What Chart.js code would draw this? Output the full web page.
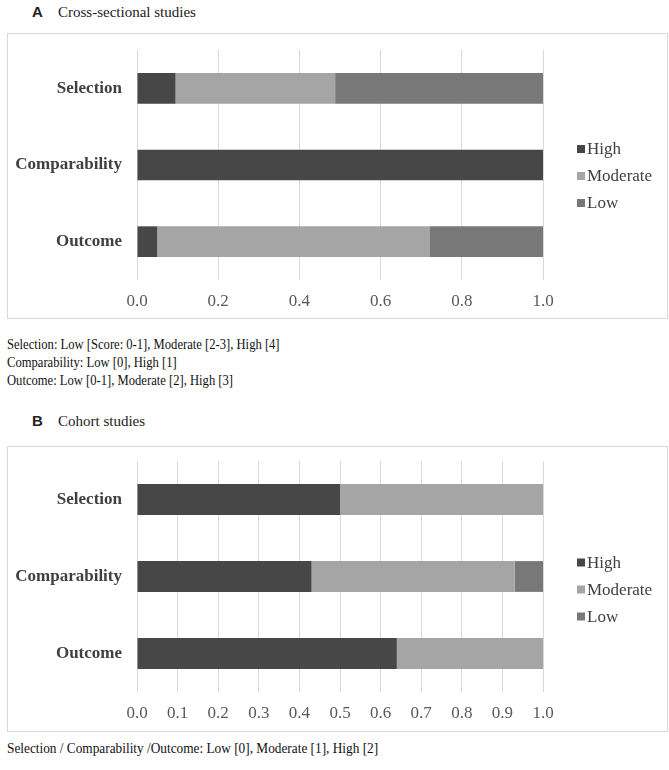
<!DOCTYPE html>
<html>
<head>
<meta charset="utf-8">
<script src="https://cdn.jsdelivr.net/npm/chart.js@4.4.1/dist/chart.umd.min.js"></script>
<style>
  body { margin: 0; background: #fff; width: 669px; height: 770px; position: relative; overflow: hidden; }
  .title { position: absolute; font: 15px "Liberation Serif", serif; color: #222; white-space: nowrap; }
  .title b { font: bold 15px "Liberation Sans", Arial, sans-serif; display: inline-block; width: 26px; }
  .box { position: absolute; left: 7px; width: 661px; height: 286px; box-sizing: border-box; border: 1px solid #d9d9d9; }
  .box canvas { position: absolute; left: 0; top: 0; }
  .note { position: absolute; left: 7px; font: 14px "Liberation Serif", serif; color: #111; line-height: 18px; white-space: nowrap; transform-origin: 0 0; }
</style>
</head>
<body>
<div class="title" style="left:32px; top:3px;"><b>A</b>Cross-sectional studies</div>
<div class="box" style="top:33px;"><canvas id="chartA" width="659" height="284"></canvas></div>
<div class="note" style="top:336px; transform: scaleX(0.9);">
Selection: Low [Score: 0-1], Moderate [2-3], High [4]<br>
Comparability: Low [0], High [1]<br>
Outcome: Low [0-1], Moderate [2], High [3]
</div>
<div class="title" style="left:32px; top:412px;"><b>B</b>Cohort studies</div>
<div class="box" style="top:446px;"><canvas id="chartB" width="659" height="284"></canvas></div>
<div class="note" style="top:740px; transform: scaleX(0.95);">Selection / Comparability /Outcome: Low [0], Moderate [1], High [2]</div>

<script>
// categories and series (proportions of studies)
const domains = ['Selection', 'Comparability', 'Outcome'];
const levels = ['High', 'Moderate', 'Low'];
const levelColors = ['#474747', '#a5a5a5', '#787878'];

// A: cross-sectional studies
const crossHigh = [0.095, 1.0, 0.05];
const crossModerate = [0.393, 0, 0.67];
const crossLow = [0.512, 0, 0.28];
const crossTicks = [0.0, 0.2, 0.4, 0.6, 0.8, 1.0];

// B: cohort studies
const cohortHigh = [0.50, 0.43, 0.64];
const cohortModerate = [0.50, 0.50, 0.36];
const cohortLow = [0, 0.07, 0];
const cohortTicks = [0.0, 0.1, 0.2, 0.3, 0.4, 0.5, 0.6, 0.7, 0.8, 0.9, 1.0];

// simple legend drawn right of the plot, like the Excel original
const sideLegend = {
    id: 'sideLegend',
    afterDraw(chart, args, opts) {
        const ctx = chart.ctx;
        const area = chart.chartArea;
        const x = area.right + 34;
        const mid = (area.top + area.bottom) / 2 + opts.shift;
        ctx.save();
        ctx.font = '17px "Liberation Serif", serif';
        ctx.textBaseline = 'middle';
        chart.data.datasets.forEach((ds, i) => {
            const y = mid + (i - 1) * 27;
            ctx.fillStyle = ds.backgroundColor;
            ctx.fillRect(x, y - 4, 8, 8);
            ctx.fillStyle = '#404040';
            ctx.fillText(ds.label, x + 10, y + 1);
        });
        ctx.restore();
    }
};

const makeChart = (id, high, moderate, low, ticks, step, top, axisHeight, shift) => {
    const series = [high, moderate, low];
    new Chart(document.getElementById(id), {
        type: 'bar',
        data: {
            labels: domains,
            datasets: levels.map((name, i) => ({
                label: name,
                data: series[i],
                backgroundColor: levelColors[i],
                borderWidth: 0,
                barPercentage: 0.4,
                categoryPercentage: 1.0
            }))
        },
        options: {
            indexAxis: 'y',
            responsive: false,
            animation: false,
            layout: { padding: { top: top, right: 124, left: 0, bottom: 0 } },
            plugins: {
                legend: { display: false },
                tooltip: { enabled: false },
                sideLegend: { shift: shift }
            },
            scales: {
                x: {
                    stacked: true,
                    min: 0,
                    max: 1,
                    afterBuildTicks: (scale) => { scale.ticks = ticks.map(v => ({ value: v })); },
                    afterFit: (scale) => { scale.height = axisHeight; },
                    ticks: {
                        stepSize: step,
                        padding: 11,
                        color: '#595959',
                        font: { family: '"Liberation Serif", serif', size: 17 },
                        callback: (v) => Number(v).toFixed(1)
                    },
                    grid: { color: '#d9d9d9', drawTicks: false },
                    border: { display: false }
                },
                y: {
                    stacked: true,
                    afterFit: (scale) => {
                        scale.width = 129;
                        scale.paddingTop = 0;
                        scale.paddingBottom = 0;
                    },
                    ticks: {
                        padding: 15,
                        color: '#404040',
                        font: { family: '"Liberation Serif", serif', size: 17, weight: 'bold' }
                    },
                    grid: { display: false, drawTicks: false },
                    border: { display: false }
                }
            }
        },
        plugins: [sideLegend]
    });
};

makeChart('chartA', crossHigh, crossModerate, crossLow, crossTicks, 0.2, 16, 38, 11);
makeChart('chartB', cohortHigh, cohortModerate, cohortLow, cohortTicks, 0.1, 14, 39, 13);
</script>
</body>
</html>
